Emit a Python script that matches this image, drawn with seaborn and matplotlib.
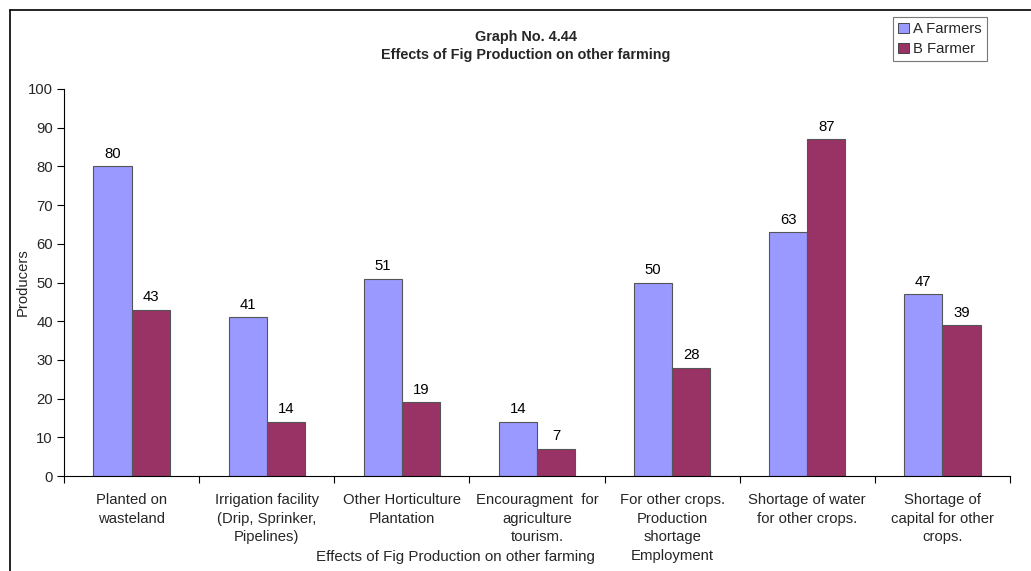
import matplotlib
matplotlib.use("Agg")
import matplotlib.pyplot as plt
from matplotlib.lines import Line2D
import seaborn as sns
import pandas as pd
import numpy as np

categories = [
    "Planted on\nwasteland",
    "Irrigation facility\n(Drip, Sprinker,\nPipelines)",
    "Other Horticulture\nPlantation",
    "Encouragment  for\nagriculture\ntourism.",
    "For other crops.\nProduction\nshortage\nEmployment",
    "Shortage of water\nfor other crops.",
    "Shortage of\ncapital for other\ncrops.",
]
series_names = ["A Farmers", "B Farmer"]
a_farmers = [80, 41, 51, 14, 50, 63, 47]
b_farmer = [43, 14, 19, 7, 28, 87, 39]
y_ticks = [0, 10, 20, 30, 40, 50, 60, 70, 80, 90, 100]

df = pd.DataFrame({
    "category": categories * 2,
    "group": [series_names[0]] * len(categories) + [series_names[1]] * len(categories),
    "value": a_farmers + b_farmer,
})

sns.set_theme(style="white")
plt.rcParams["font.family"] = ["Liberation Sans", "DejaVu Sans"]

FS = 10.7
W, H = 1031, 571
fig = plt.figure(figsize=(W / 100, H / 100), dpi=100)
ax = fig.add_axes([64 / W, 1 - 476 / H, (1010 - 64) / W, (476 - 89) / H])

palette = {"A Farmers": "#9999FF", "B Farmer": "#993366"}
sns.barplot(data=df, x="category", y="value", hue="group", order=categories,
            hue_order=series_names, palette=palette, width=0.565, saturation=1,
            edgecolor="#555555", linewidth=0.8, ax=ax, legend=False)

for cont in ax.containers:
    ax.bar_label(cont, fmt="%d", padding=4, fontsize=FS, color="black")

ax.set_ylim(0, 100)
ax.set_yticks(y_ticks)
ax.set_yticklabels([str(t) for t in y_ticks], fontsize=FS)
ax.set_xlim(-0.5, len(categories) - 0.5)
ax.set_xticks(range(len(categories)))
ax.set_xticklabels(categories, fontsize=FS, linespacing=1.41, va="top")
ax.set_xticks(np.arange(-0.5, len(categories), 1.0), minor=True)
ax.tick_params(axis="x", which="major", length=0, pad=12.5)
ax.tick_params(axis="x", which="minor", length=5, width=0.8, color="black", direction="out")
ax.tick_params(axis="y", length=5, width=0.8, color="black", direction="out", pad=3)
ax.xaxis.set_ticks_position("bottom")
ax.yaxis.set_ticks_position("left")
ax.grid(False)

for side in ["top", "right"]:
    ax.spines[side].set_visible(False)
for side in ["left", "bottom"]:
    ax.spines[side].set_color("black")
    ax.spines[side].set_linewidth(0.8)

ax.set_xlabel("")
ax.set_ylabel("Producers", fontsize=FS, labelpad=2)
ax.yaxis.set_label_coords(-0.036, 0.5)

fig.text(455 / W, 1 - 557 / H, "Effects of Fig Production on other farming",
         ha="center", va="center", fontsize=10.9)

fig.text(526 / W, 1 - 37 / H, "Graph No. 4.44", ha="center", va="center",
         fontsize=10.4, fontweight="bold")
fig.text(526 / W, 1 - 55 / H, "Effects of Fig Production on other farming",
         ha="center", va="center", fontsize=10.4, fontweight="bold")

handles = [plt.Rectangle((0, 0), 1, 1, facecolor=palette[n], edgecolor="#333333", linewidth=0.6)
           for n in series_names]
leg = fig.legend(handles, series_names, loc="upper left",
                 bbox_to_anchor=(893 / W, 1 - 17 / H), fontsize=FS,
                 frameon=True, fancybox=False, borderpad=0.35, handlelength=0.7,
                 handleheight=0.7, handletextpad=0.3, labelspacing=0.4,
                 borderaxespad=0)
leg.get_frame().set_edgecolor("#555555")
leg.get_frame().set_linewidth(0.8)

# outer chart frame
fig.add_artist(Line2D([10 / W, 1.0], [1 - 10 / H, 1 - 10 / H], color="black", linewidth=1.2))
fig.add_artist(Line2D([10 / W, 10 / W], [0.0, 1 - 10 / H], color="black", linewidth=1.2))

fig.savefig("out.png", dpi=100, facecolor="white")
